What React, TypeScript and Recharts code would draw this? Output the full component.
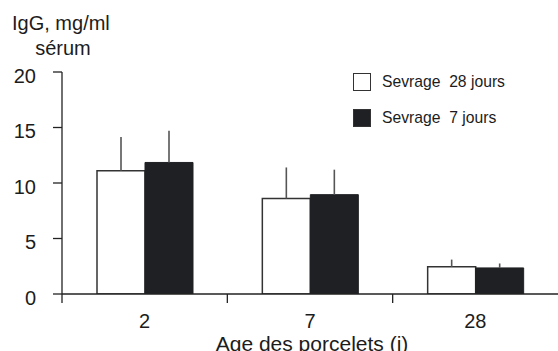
import React from 'react';
import { BarChart, Bar, XAxis, YAxis, ErrorBar, Legend, Customized } from 'recharts';

const ages = ['2', '7', '28'];
const sevrage28 = [11.1, 8.6, 2.45];
const sevrage28Err = [3.05, 2.8, 0.65];
const sevrage7 = [11.85, 8.95, 2.35];
const sevrage7Err = [2.85, 2.25, 0.4];
const yTicks = [0, 5, 10, 15, 20];
const seriesNames = ['Sevrage  28 jours', 'Sevrage  7 jours'];

const data = ages.map((age, i) => ({
  age,
  s28: sevrage28[i],
  e28: [0, sevrage28Err[i]],
  s7: sevrage7[i],
  e7: [0, sevrage7Err[i]],
}));

const W = 558;
const H = 351;
const MARGIN = { top: 72, right: 0, bottom: 0, left: 0 };
const Y_AXIS_W = 62;
const X_AXIS_H = 57;
const PLOT_W = W - MARGIN.left - MARGIN.right - Y_AXIS_W;
const BAND = PLOT_W / ages.length;
const FONT = '"Liberation Sans", Arial, Helvetica, sans-serif';
const INK = '#1c1c1c';
const AXIS = '#222';

const XTick = (props: any) => {
  const { x, y, payload } = props;
  return (
    <g>
      <line x1={x - BAND / 2} x2={x - BAND / 2} y1={y} y2={y + 9} stroke={AXIS} strokeWidth={1.3} />
      <text x={x} y={y + 34} textAnchor="middle" fontFamily={FONT} fontSize={20} fill={INK}>
        {payload.value}
      </text>
    </g>
  );
};

const YTick = (props: any) => {
  const { x, y, payload } = props;
  return (
    <text x={x} y={y + 10.5} textAnchor="end" fontFamily={FONT} fontSize={20} fill={INK}>
      {payload.value}
    </text>
  );
};

const YTitle = () => (
  <g fontFamily={FONT} fontSize={20} fill={INK}>
    <text x={12} y={30}>IgG, mg/ml</text>
    <text x={63} y={55} textAnchor="middle">sérum</text>
  </g>
);

const XLabel = (props: any) => {
  const vb = props.viewBox;
  return (
    <text
      x={vb.x + vb.width / 2 + 2}
      y={vb.y + vb.height}
      textAnchor="middle"
      fontFamily={FONT}
      fontSize={21}
      fill={INK}
    >
      Age des porcelets (j)
    </text>
  );
};

const renderLegend = (props: any) => {
  const payload = props.payload || [];
  return (
    <div style={{ fontFamily: FONT, fontSize: 15.7, color: INK }}>
      {payload.map((p: any, i: number) => (
        <div
          key={i}
          style={{ display: 'flex', alignItems: 'center', height: 18, marginBottom: i === 0 ? 18.3 : 0 }}
        >
          <span
            style={{
              display: 'inline-block',
              width: 18,
              height: 18,
              boxSizing: 'border-box',
              border: '1.5px solid #333',
              background: p.color,
            }}
          />
          <span style={{ marginLeft: 11, whiteSpace: 'pre', lineHeight: '18px' }}>{p.value}</span>
        </div>
      ))}
    </div>
  );
};

export default function App() {
  return (
    <div style={{ position: 'absolute', left: 0, top: 0, width: W, height: H, background: '#fff' }}>
      <BarChart width={W} height={H} data={data} margin={MARGIN} barSize={48} barGap={0}>
        <XAxis
          dataKey="age"
          height={X_AXIS_H}
          tickLine={false}
          tickSize={0}
          tickMargin={0}
          axisLine={{ stroke: AXIS, strokeWidth: 1.3 }}
          tick={<XTick />}
          interval={0}
          label={<XLabel />}
        />
        <YAxis
          width={Y_AXIS_W}
          domain={[0, 20]}
          ticks={yTicks}
          interval={0}
          tickSize={9}
          tickMargin={17}
          tickLine={{ stroke: AXIS, strokeWidth: 1.3 }}
          axisLine={{ stroke: AXIS, strokeWidth: 1.3 }}
          tick={<YTick />}
          allowDataOverflow
        />
        <Legend
          layout="vertical"
          align="center"
          verticalAlign="middle"
          content={renderLegend}
          wrapperStyle={{ left: 353, top: 72.5, width: 190 }}
        />
        <Bar dataKey="s28" name={seriesNames[0]} fill="#ffffff" stroke="#333" strokeWidth={1.5} isAnimationActive={false}>
          <ErrorBar dataKey="e28" width={0} stroke="#555" strokeWidth={1.6} direction="y" />
        </Bar>
        <Bar dataKey="s7" name={seriesNames[1]} fill="#1f2023" stroke="#1f2023" strokeWidth={1} isAnimationActive={false}>
          <ErrorBar dataKey="e7" width={0} stroke="#555" strokeWidth={1.6} direction="y" />
        </Bar>
        <Customized component={YTitle} />
      </BarChart>
    </div>
  );
}
